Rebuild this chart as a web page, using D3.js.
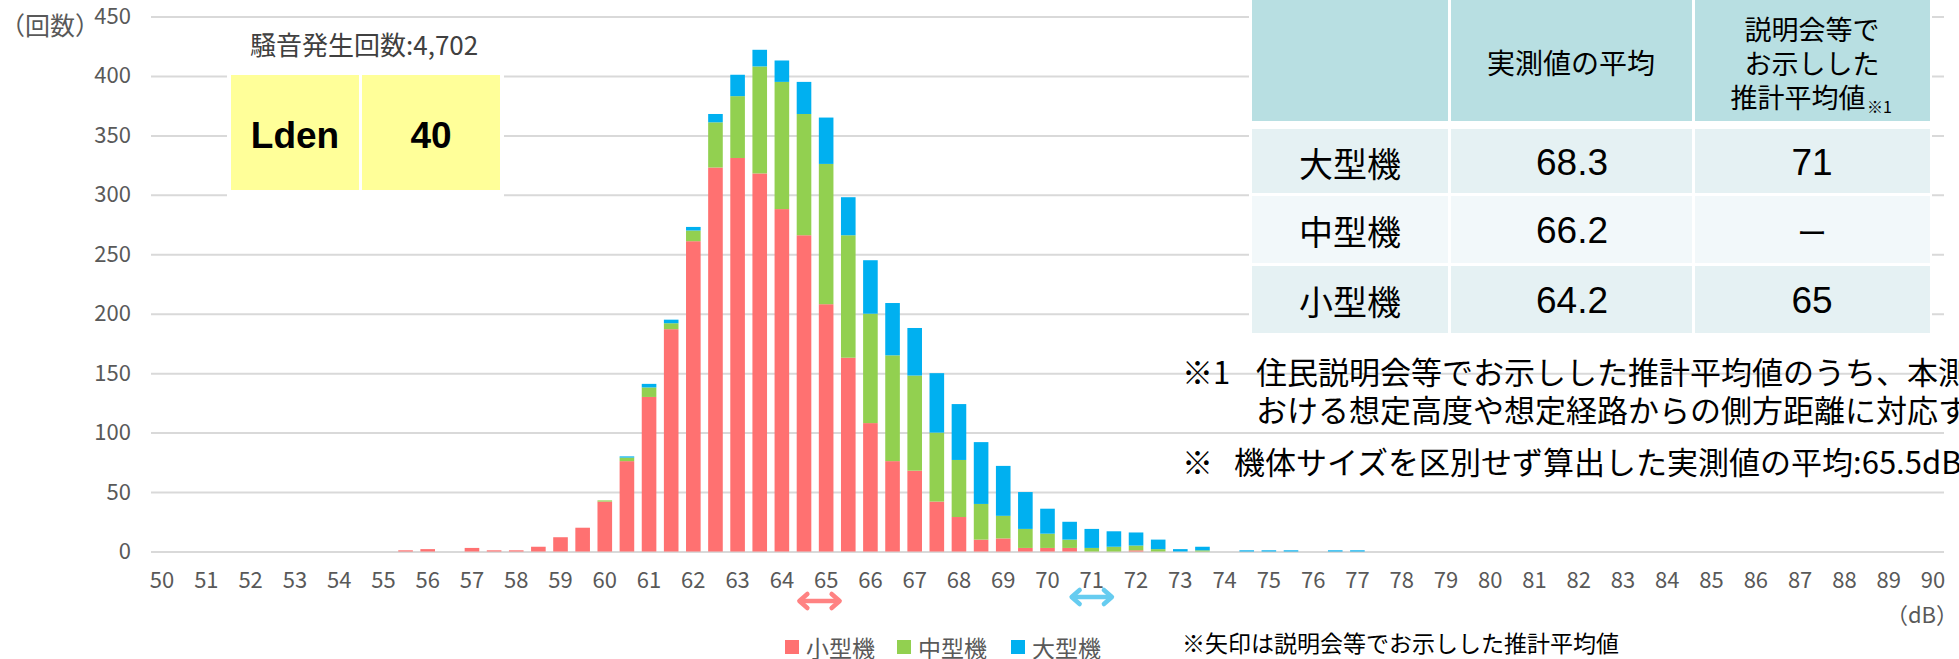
<!DOCTYPE html>
<html>
<head>
<meta charset="utf-8">
<script src="https://cdn.jsdelivr.net/npm/d3@7/dist/d3.min.js"></script>
<style>
    body { margin: 0; background: #ffffff; }
    svg { display: block; }
</style>
</head>
<body>
<div id="chart"></div>
<script>
// 0.5 dB bins, labelled every 1 dB
var categories = [
    50, 50.5, 51, 51.5, 52, 52.5, 53, 53.5, 54, 54.5,
    55, 55.5, 56, 56.5, 57, 57.5, 58, 58.5, 59, 59.5,
    60, 60.5, 61, 61.5, 62, 62.5, 63, 63.5, 64, 64.5,
    65, 65.5, 66, 66.5, 67, 67.5, 68, 68.5, 69, 69.5,
    70, 70.5, 71, 71.5, 72, 72.5, 73, 73.5, 74, 74.5,
    75, 75.5, 76, 76.5, 77, 77.5, 78, 78.5, 79, 79.5,
    80, 80.5, 81, 81.5, 82, 82.5, 83, 83.5, 84, 84.5,
    85, 85.5, 86, 86.5, 87, 87.5, 88, 88.5, 89, 89.5,
    90
];

var smallPlanes = [
    0, 0, 0, 0, 0, 0, 0, 0, 0, 0,
    0, 1, 2, 0, 3, 1, 1, 4, 12, 20,
    42, 76, 130, 187, 261, 323, 331, 318, 288, 266,
    208, 163, 108, 76, 68, 42, 29, 10, 11, 3,
    3, 3, 0, 0, 1, 0, 0, 0, 0, 0,
    0, 0, 0, 0, 0, 0, 0, 0, 0, 0,
    0, 0, 0, 0, 0, 0, 0, 0, 0, 0,
    0, 0, 0, 0, 0, 0, 0, 0, 0, 0,
    0
];

var midPlanes = [
    0, 0, 0, 0, 0, 0, 0, 0, 0, 0,
    0, 0, 0, 0, 0, 0, 0, 0, 0, 0,
    1, 3, 8, 5, 9, 38, 52, 90, 107, 102,
    118, 103, 92, 89, 80, 58, 48, 30, 19, 16,
    12, 7, 3, 4, 4, 2, 0, 1, 0, 0,
    0, 0, 0, 0, 0, 0, 0, 0, 0, 0,
    0, 0, 0, 0, 0, 0, 0, 0, 0, 0,
    0, 0, 0, 0, 0, 0, 0, 0, 0, 0,
    0
];

var largePlanes = [
    0, 0, 0, 0, 0, 0, 0, 0, 0, 0,
    0, 0, 0, 0, 0, 0, 0, 0, 0, 0,
    0, 1, 3, 3, 3, 7, 18, 14, 18, 27,
    39, 32, 45, 44, 40, 50, 47, 52, 42, 31,
    21, 15, 16, 13, 11, 8, 2, 3, 0, 1,
    1, 1, 0, 1, 1, 0, 0, 0, 0, 0,
    0, 0, 0, 0, 0, 0, 0, 0, 0, 0,
    0, 0, 0, 0, 0, 0, 0, 0, 0, 0,
    0
];

var seriesKeys = ["small", "mid", "large"];
var seriesNames = ["小型機", "中型機", "大型機"];
var yTicks = [0, 50, 100, 150, 200, 250, 300, 350, 400, 450];

var tableHead = ["", "実測値の平均", "説明会等で\nお示しした\n推計平均値"];
var tableRows = ["大型機", "中型機", "小型機"];
var measuredAvg = ["68.3", "66.2", "64.2"];
var estimatedAvg = ["71", "ー", "65"];

// arrows: estimated averages shown at briefings (small, large)
var arrowValues = [64.85, 71];

var W = 1959, H = 659;
var JP = "'Noto Sans CJK JP', 'Noto Sans', sans-serif";
var LAT = "'Liberation Sans', Arial, sans-serif";
var colors = { small: "#ff7171", mid: "#92d050", large: "#00b0f0" };
var arrowColors = ["#ff8282", "#66ccf0"];

var svg = d3.select("#chart").append("svg").attr("width", W).attr("height", H);

var x = d3.scaleBand().domain(categories).range([151, 1944]).paddingInner(0.34).paddingOuter(0.17);
var y = d3.scaleLinear().domain([0, 450]).range([551.5, 16.5]);
var xdB = d3.scaleLinear().domain([50, 90]).range([x(50) + x.bandwidth() / 2, x(90) + x.bandwidth() / 2]);

// grid + y labels
var yAxis = svg.append("g").attr("transform", "translate(151,0)")
    .call(d3.axisLeft(y).tickValues(yTicks).tickSize(-(1944 - 151)).tickPadding(20).tickFormat(d3.format("d")));
yAxis.select(".domain").remove();
yAxis.selectAll("line").attr("stroke", "#d9d9d9").attr("stroke-width", 2);
yAxis.selectAll("text").attr("fill", "#595959").style("font-family", JP).style("font-size", "22px");

var xAxis = svg.append("g").attr("transform", "translate(0," + y(0) + ")")
    .call(d3.axisBottom(x).tickValues(categories.filter(Number.isInteger)).tickSize(0).tickPadding(21));
xAxis.select(".domain").remove();
xAxis.selectAll("text").attr("fill", "#595959").style("font-family", JP).style("font-size", "22px");

// stacked bars
var rows = categories.map(function (c, i) {
    return { cat: c, small: smallPlanes[i], mid: midPlanes[i], large: largePlanes[i] };
});
var stacked = d3.stack().keys(seriesKeys)(rows);

svg.append("g").selectAll("g").data(stacked).enter().append("g")
    .attr("fill", function (s) { return colors[s.key]; })
    .selectAll("rect").data(function (s) { return s.filter(function (d) { return d[1] > d[0]; }); })
    .enter().append("rect")
    .attr("x", function (d) { return x(d.data.cat); })
    .attr("y", function (d) { return y(d[1]); })
    .attr("width", x.bandwidth())
    .attr("height", function (d) { return y(d[0]) - y(d[1]); });

function txt(px, py, s, size, opts) {
    opts = opts || {};
    return svg.append("text").attr("x", px).attr("y", py).text(s)
        .attr("dominant-baseline", "central")
        .attr("text-anchor", opts.anchor || "start")
        .attr("fill", opts.fill || "#000")
        .style("font-family", opts.font || JP)
        .style("font-weight", opts.weight || "normal")
        .style("font-size", size + "px");
}

txt(0, 24, "（回数）", 25, { fill: "#595959" });
txt(1958, 613, "（dB）", 22, { fill: "#595959", anchor: "end" });

// count + Lden box
txt(250, 43, "騒音発生回数:4,702", 26, { fill: "#404040" });
svg.append("rect").attr("x", 227).attr("y", 70).attr("width", 277).attr("height", 130).attr("fill", "#fff");
svg.append("rect").attr("x", 231).attr("y", 75).attr("width", 128).attr("height", 115).attr("fill", "#ffff99");
svg.append("rect").attr("x", 362).attr("y", 75).attr("width", 138).attr("height", 115).attr("fill", "#ffff99");
txt(295, 135, "Lden", 37, { anchor: "middle", font: LAT, weight: "bold" });
txt(431, 135, "40", 37, { anchor: "middle", font: LAT, weight: "bold" });

// table
var colX = [1252, 1451, 1695, 1930];
var rowY = [[129, 193], [196, 263], [266, 333]];
var rowFill = ["#e5f1f3", "#f2f8fa", "#e5f1f3"];
svg.append("rect").attr("x", 1249).attr("y", 0).attr("width", 683).attr("height", 336).attr("fill", "#fff");

colX.slice(0, 3).forEach(function (cx, j) {
    var w = colX[j + 1] - cx - (j < 2 ? 3 : 0);
    svg.append("rect").attr("x", cx).attr("y", 0).attr("width", w).attr("height", 121).attr("fill", "#b8dfe2");
    rowY.forEach(function (r, i) {
        svg.append("rect").attr("x", cx).attr("y", r[0]).attr("width", w).attr("height", r[1] - r[0]).attr("fill", rowFill[i]);
    });
});

txt(1571, 62, tableHead[1], 28, { anchor: "middle" });
var headLines = tableHead[2].split("\n");
txt(1812, 28, headLines[0], 27, { anchor: "middle" });
txt(1812, 62, headLines[1], 27, { anchor: "middle" });
txt(1798, 96, headLines[2], 27, { anchor: "middle" });
txt(1867, 106, "※1", 16);

tableRows.forEach(function (name, i) {
    var cy = (rowY[i][0] + rowY[i][1]) / 2 + 1;
    txt(1350, cy, name, 34, { anchor: "middle" });
    txt(1572, cy, measuredAvg[i], 37, { anchor: "middle", font: LAT });
    txt(1812, cy, estimatedAvg[i], estimatedAvg[i] === "ー" ? 30 : 37, { anchor: "middle", font: estimatedAvg[i] === "ー" ? JP : LAT });
});

// notes
txt(1182, 370, "※1", 31);
txt(1256, 370, "住民説明会等でお示しした推計平均値のうち、本測定局に", 31);
txt(1256, 408, "おける想定高度や想定経路からの側方距離に対応する値", 31);
txt(1182, 460, "※", 31);
txt(1234, 460, "機体サイズを区別せず算出した実測値の平均:65.5dB", 31);
txt(1182, 642, "※矢印は説明会等でお示しした推計平均値", 23);

// legend
var legend = svg.append("g").selectAll("g").data(seriesNames).enter().append("g")
    .attr("transform", function (d, i) { return "translate(" + [785, 897, 1011][i] + ",647)"; });
legend.append("rect").attr("x", 0).attr("y", -7).attr("width", 14).attr("height", 14)
    .attr("fill", function (d, i) { return colors[seriesKeys[i]]; });
legend.append("text").attr("x", 21).attr("y", 0).attr("dominant-baseline", "central")
    .attr("fill", "#595959").style("font-family", JP).style("font-size", "23px")
    .text(function (d) { return d; });

// double arrows under the axis
var arrows = svg.append("g").selectAll("g").data(arrowValues).enter().append("g")
    .attr("stroke", function (d, i) { return arrowColors[i]; })
    .attr("stroke-width", 4.5).attr("fill", "none")
    .attr("stroke-linecap", "round").attr("stroke-linejoin", "round")
    .attr("transform", function (d, i) { return "translate(0," + (i === 0 ? 601 : 597) + ")"; });
arrows.append("line")
    .attr("x1", function (d) { return xdB(d - 0.5) + 3; })
    .attr("x2", function (d) { return xdB(d + 0.5) - 3; })
    .attr("y1", 0).attr("y2", 0);
arrows.append("path").attr("d", function (d) {
    var a = xdB(d - 0.5) + 2, b = xdB(d + 0.5) - 2;
    return "M" + (a + 8) + ",-7L" + a + ",0L" + (a + 8) + ",7M" + (b - 8) + ",-7L" + b + ",0L" + (b - 8) + ",7";
});
</script>
</body>
</html>
